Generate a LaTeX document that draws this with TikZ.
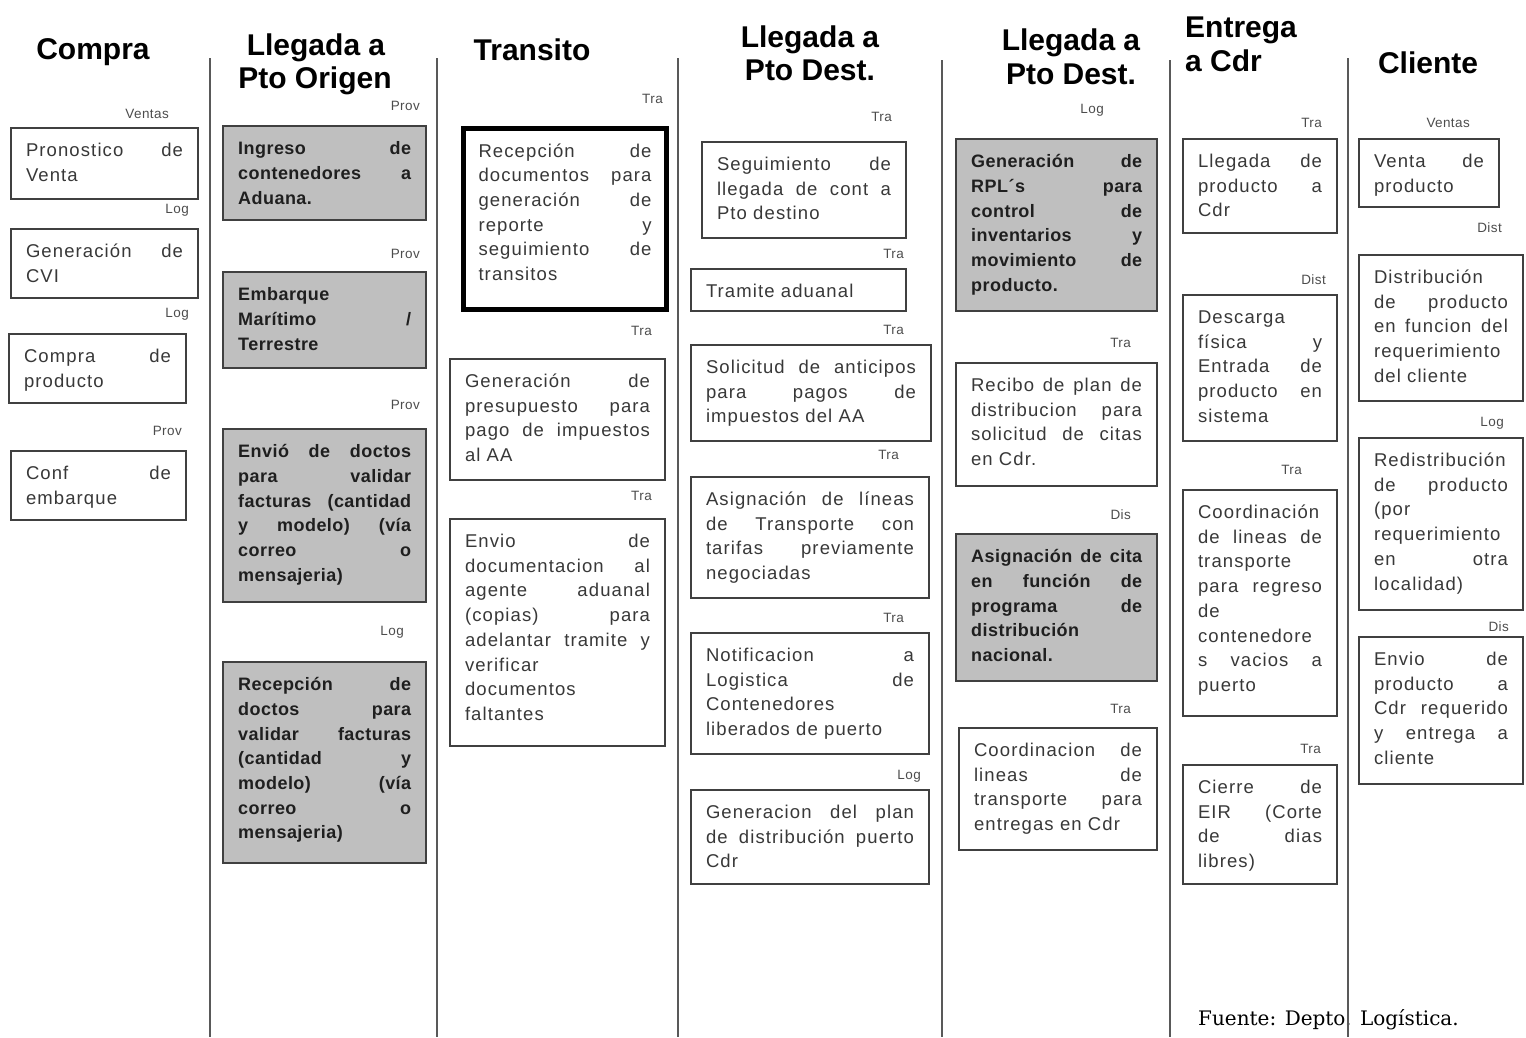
\documentclass[tikz,border=0pt]{standalone}
\usepackage{fontspec}
\setmainfont{Liberation Sans}
\newfontfamily\notefont{DejaVu Serif}
\newfontfamily\boxfont[LetterSpace=6]{Liberation Sans}
\newfontfamily\shadefont[LetterSpace=2.5]{Liberation Sans}
\newfontfamily\rolefont[LetterSpace=3]{Liberation Sans}

% one justified line inside a task box
\newcommand\J[1]{\makebox[\linewidth][s]{#1}\\}
% task box: name, style, x, y, width, height, lines
\newcommand\taskbox[7]{%
  \node[#2, anchor=north west, inner sep=0pt, minimum width=#5pt, minimum height=#6pt]
    (#1) at (#3,#4) {\parbox[c][#6pt][t]{\dimexpr#5pt-30pt\relax}{\rule{0pt}{28.5pt}#7}};}

\tikzset{
  lane/.style={draw=black!65, line width=2pt},
  head/.style={font=\bfseries\fontsize{30}{32}\selectfont, anchor=base, inner sep=0pt},
  role/.style={font=\rolefont\fontsize{13.5}{15}\selectfont, text=black!70, anchor=east, inner sep=0pt},
  plain/.style={draw=black!75, line width=2pt, fill=white, text=black!78,
    font=\boxfont\fontsize{18.5}{24.7}\selectfont},
  shaded/.style={draw=black!75, line width=2.4pt, fill=black!25, text=black!88,
    font=\shadefont\bfseries\fontsize{18}{24.7}\selectfont},
  strong/.style={draw=black, line width=5pt, fill=white, text=black!78,
    font=\boxfont\fontsize{18.5}{24.7}\selectfont},
}

\begin{document}
\begin{tikzpicture}[x=1pt, y=-1pt]
\useasboundingbox (0,0) rectangle (1526,1037);

% lane separators
\coordinate (s1t) at (210,58);  \coordinate (s1b) at (210,1037);
\coordinate (s2t) at (437,58);  \coordinate (s2b) at (437,1037);
\coordinate (s3t) at (678,58);  \coordinate (s3b) at (678,1037);
\coordinate (s4t) at (942,60);  \coordinate (s4b) at (942,1037);
\coordinate (s5t) at (1170,60); \coordinate (s5b) at (1170,1037);
\coordinate (s6t) at (1348,58); \coordinate (s6b) at (1348,1037);

% lane headings
\node[head] (hCompra) at (93,59) {Compra};
\node[head] (hOrigA) at (316,55) {Llegada a};
\node[head] (hOrigB) at (315,88) {Pto Origen};
\node[head] (hTrans) at (532,60) {Transito};
\node[head] (hDestA) at (810,47) {Llegada a};
\node[head] (hDestB) at (810,80) {Pto Dest.};
\node[head] (hDest2A) at (1071,50) {Llegada a};
\node[head] (hDest2B) at (1071,84) {Pto Dest.};
\node[head, anchor=base west] (hEntA) at (1185,37) {Entrega};
\node[head, anchor=base west] (hEntB) at (1185,71) {a Cdr};
\node[head] (hCli) at (1428,73) {Cliente};

% --- Compra
\node[role] (r11) at (169,114) {Ventas};
\taskbox{b11}{plain}{10}{127}{187}{71}{\J{Pronostico de}Venta}
\node[role] (r12) at (189,210) {Log};
\taskbox{b12}{plain}{10}{228}{187}{69}{\J{Generación de}CVI}
\node[role] (r13) at (189,314) {Log};
\taskbox{b13}{plain}{8}{333}{177}{69}{\J{Compra de}producto}
\node[role] (r14) at (182,431) {Prov};
\taskbox{b14}{plain}{10}{450}{175}{69}{\J{Conf de}embarque}

% --- Llegada a Pto Origen
\node[role] (r21) at (420,106) {Prov};
\taskbox{b21}{shaded}{222}{125}{203}{94}{\J{Ingreso de}\J{contenedores a}Aduana.}
\node[role] (r22) at (420,254) {Prov};
\taskbox{b22}{shaded}{222}{271}{203}{96}{Embarque\\\J{Marítimo /}Terrestre}
\node[role] (r23) at (420,405) {Prov};
\taskbox{b23}{shaded}{222}{428}{203}{173}{\J{Envió de doctos}\J{para validar}\J{facturas (cantidad}\J{y modelo) (vía}\J{correo o}mensajeria)}
\node[role] (r24) at (404,632) {Log};
\taskbox{b24}{shaded}{222}{661}{203}{201}{\J{Recepción de}\J{doctos para}\J{validar facturas}\J{(cantidad y}\J{modelo) (vía}\J{correo o}mensajeria)}

% --- Transito
\node[role] (r31) at (663,99) {Tra};
\taskbox{b31}{strong}{461}{126}{203}{181}{\J{Recepción de}\J{documentos para}\J{generación de}\J{reporte y}\J{seguimiento de}transitos}
\node[role] (r32) at (652,331) {Tra};
\taskbox{b32}{plain}{449}{358}{215}{121}{\J{Generación de}\J{presupuesto para}\J{pago de impuestos}al AA}
\node[role] (r33) at (652,496) {Tra};
\taskbox{b33}{plain}{449}{518}{215}{227}{\J{Envio de}\J{documentacion al}\J{agente aduanal}\J{(copias) para}\J{adelantar tramite y}verificar\\documentos\\faltantes}

% --- Llegada a Pto Dest. (puerto)
\node[role] (r41) at (892,117) {Tra};
\taskbox{b41}{plain}{701}{141}{204}{96}{\J{Seguimiento de}\J{llegada de cont a}Pto destino}
\node[role] (r42) at (904,254) {Tra};
\taskbox{b42}{plain}{690}{268}{215}{42}{Tramite aduanal}
\node[role] (r43) at (904,330) {Tra};
\taskbox{b43}{plain}{690}{344}{240}{96}{\J{Solicitud de anticipos}\J{para pagos de}impuestos del AA}
\node[role] (r44) at (899,455) {Tra};
\taskbox{b44}{plain}{690}{476}{238}{121}{\J{Asignación de líneas}\J{de Transporte con}\J{tarifas previamente}negociadas}
\node[role] (r45) at (904,618) {Tra};
\taskbox{b45}{plain}{690}{632}{238}{121}{\J{Notificacion a}\J{Logistica de}Contenedores\\liberados de puerto}
\node[role] (r46) at (921,776) {Log};
\taskbox{b46}{plain}{690}{789}{238}{94}{\J{Generacion del plan}\J{de distribución puerto}Cdr}

% --- Llegada a Pto Dest. (distribucion)
\node[role] (r51) at (1104,110) {Log};
\taskbox{b51}{shaded}{955}{138}{201}{172}{\J{Generación de}\J{RPL´s para}\J{control de}\J{inventarios y}\J{movimiento de}producto.}
\node[role] (r52) at (1131,343) {Tra};
\taskbox{b52}{plain}{955}{362}{201}{123}{\J{Recibo de plan de}\J{distribucion para}\J{solicitud de citas}en Cdr.}
\node[role] (r53) at (1131,515) {Dis};
\taskbox{b53}{shaded}{955}{533}{201}{147}{\J{Asignación de cita}\J{en función de}\J{programa de}distribución\\nacional.}
\node[role] (r54) at (1131,709) {Tra};
\taskbox{b54}{plain}{958}{727}{198}{122}{\J{Coordinacion de}\J{lineas de}\J{transporte para}entregas en Cdr}

% --- Entrega a Cdr
\node[role] (r61) at (1322,123) {Tra};
\taskbox{b61}{plain}{1182}{138}{154}{94}{\J{Llegada de}\J{producto a}Cdr}
\node[role] (r62) at (1326,280) {Dist};
\taskbox{b62}{plain}{1182}{294}{154}{146}{Descarga\\\J{física y}\J{Entrada de}\J{producto en}sistema}
\node[role] (r63) at (1302,470) {Tra};
\taskbox{b63}{plain}{1182}{489}{154}{226}{Coordinación\\\J{de lineas de}transporte\\\J{para regreso}de\\contenedore\\\J{s vacios a}puerto}
\node[role] (r64) at (1321,749) {Tra};
\taskbox{b64}{plain}{1182}{764}{154}{119}{\J{Cierre de}\J{EIR (Corte}\J{de dias}libres)}

% --- Cliente
\node[role] (r71) at (1470,123) {Ventas};
\taskbox{b71}{plain}{1358}{138}{140}{68}{\J{Venta de}producto}
\node[role] (r72) at (1502,228) {Dist};
\taskbox{b72}{plain}{1358}{254}{164}{146}{Distribución\\\J{de producto}\J{en funcion del}requerimiento\\del cliente}
\node[role] (r73) at (1504,423) {Log};
\taskbox{b73}{plain}{1358}{437}{164}{172}{Redistribución\\\J{de producto}(por\\requerimiento\\\J{en otra}localidad)}
\node[role] (r74) at (1509,627) {Dis};
\taskbox{b74}{plain}{1358}{636}{164}{147}{\J{Envio de}\J{producto a}\J{Cdr requerido}\J{y entrega a}cliente}

% source note
\node[font=\notefont\fontsize{20}{22}\selectfont, anchor=base west, inner sep=0pt] (src) at (1198,1025) {Fuente: Depto. Logística.};

% lane separators on top
\draw[lane] (s1t) -- (s1b);
\draw[lane] (s2t) -- (s2b);
\draw[lane] (s3t) -- (s3b);
\draw[lane] (s4t) -- (s4b);
\draw[lane] (s5t) -- (s5b);
\draw[lane] (s6t) -- (s6b);
\end{tikzpicture}
\end{document}
